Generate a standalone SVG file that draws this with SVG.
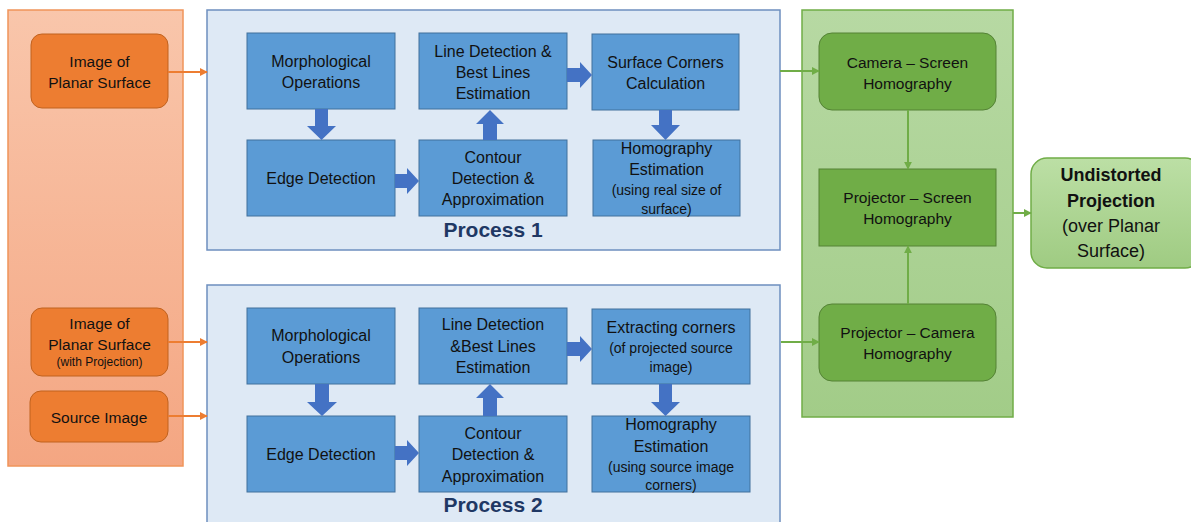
<svg xmlns="http://www.w3.org/2000/svg" width="1191" height="522" viewBox="0 0 1191 522">
<defs>
<linearGradient id="gOr" x1="0" y1="0" x2="0" y2="1">
<stop offset="0" stop-color="#f9c6ab"/><stop offset="1" stop-color="#f4a682"/>
</linearGradient>
<linearGradient id="gGr" x1="0" y1="0" x2="0" y2="1">
<stop offset="0" stop-color="#b7d9a3"/><stop offset="1" stop-color="#a2cc88"/>
</linearGradient>
<linearGradient id="gOut" x1="0" y1="0" x2="0" y2="1">
<stop offset="0" stop-color="#bcdfa5"/><stop offset="1" stop-color="#9fcb82"/>
</linearGradient>
<marker id="aO" viewBox="0 0 10 10" refX="9" refY="5" markerWidth="4" markerHeight="4" orient="auto" markerUnits="strokeWidth">
<path d="M0,0 L10,5 L0,10 z" fill="#ed7d31"/>
</marker>
<marker id="aG" viewBox="0 0 10 10" refX="9" refY="5" markerWidth="4" markerHeight="4" orient="auto" markerUnits="strokeWidth">
<path d="M0,0 L10,5 L0,10 z" fill="#70ad47"/>
</marker>
<style>
text{font-family:"Liberation Sans",Arial,sans-serif;fill:#111;text-anchor:middle}
.t{font-size:16px}
.to{font-size:15.5px}
.s{font-size:14px}
.xs{font-size:12px}
.big{font-size:18px}
.lbl{font-size:21px;font-weight:bold;fill:#1f3864}
.blue{fill:#5b9bd5;stroke:#41719c;stroke-width:1}
.orn{fill:#ed7d31;stroke:#c0621f;stroke-width:1}
.grn{fill:#70ad47;stroke:#548235;stroke-width:1}
.panel{fill:#dee9f5;stroke:#6d8fbf;stroke-width:1.5}
.barrow{fill:#4472c4}
.co{stroke:#ed7d31;stroke-width:2;fill:none}
.cg{stroke:#70ad47;stroke-width:2;fill:none}
</style>
</defs>

<!-- panels -->
<g id="inputs-panel"><rect x="8" y="10" width="175" height="456" fill="url(#gOr)" stroke="#f0945a" stroke-width="1.5"/></g>
<g id="process1"><rect class="panel" x="207" y="10" width="573" height="240"/><text class="lbl" x="493" y="237">Process 1</text></g>
<g id="process2"><rect class="panel" x="207" y="285" width="573" height="245"/><text class="lbl" x="493" y="512">Process 2</text></g>
<g id="homography-panel"><rect x="802" y="10" width="211" height="407" fill="url(#gGr)" stroke="#70ad47" stroke-width="1.5"/></g>

<!-- input nodes -->
<g id="img-planar"><rect class="orn" x="31" y="34" width="137" height="74" rx="11"/>
<text class="to" x="99.5" y="66.5">Image of</text><text class="to" x="99.5" y="87.5">Planar Surface</text></g>
<g id="img-planar-proj"><rect class="orn" x="31" y="308" width="137" height="68" rx="11"/>
<text class="to" x="99.5" y="328.5">Image of</text><text class="to" x="99.5" y="349.5">Planar Surface</text><text class="xs" x="99.5" y="366">(with Projection)</text></g>
<g id="source-img"><rect class="orn" x="30" y="391" width="138" height="51" rx="11"/>
<text class="to" x="99" y="422.5">Source Image</text></g>

<!-- process 1 nodes -->
<g id="p1-morph"><rect class="blue" x="247" y="33" width="148" height="76"/>
<text class="t" x="321" y="66.5">Morphological</text><text class="t" x="321" y="87.5">Operations</text></g>
<g id="p1-edge"><rect class="blue" x="247" y="140" width="148" height="76"/>
<text class="t" x="321" y="184">Edge Detection</text></g>
<g id="p1-line"><rect class="blue" x="419" y="33" width="148" height="76"/>
<text class="t" x="493" y="56.5">Line Detection &amp;</text><text class="t" x="493" y="77.5">Best Lines</text><text class="t" x="493" y="98.5">Estimation</text></g>
<g id="p1-contour"><rect class="blue" x="419" y="140" width="148" height="76"/>
<text class="t" x="493" y="162.5">Contour</text><text class="t" x="493" y="183.5">Detection &amp;</text><text class="t" x="493" y="204.5">Approximation</text></g>
<g id="p1-corners"><rect class="blue" x="592" y="34" width="147" height="76"/>
<text class="t" x="665.5" y="67.5">Surface Corners</text><text class="t" x="665.5" y="88.5">Calculation</text></g>
<g id="p1-homog"><rect class="blue" x="593" y="140" width="147" height="76"/>
<text class="t" x="666.5" y="153.5">Homography</text><text class="t" x="666.5" y="174.5">Estimation</text><text class="s" x="666.5" y="195">(using real size of</text><text class="s" x="666.5" y="214">surface)</text></g>

<!-- process 2 nodes -->
<g id="p2-morph"><rect class="blue" x="247" y="308" width="148" height="76"/>
<text class="t" x="321" y="340.5">Morphological</text><text class="t" x="321" y="362.5">Operations</text></g>
<g id="p2-edge"><rect class="blue" x="247" y="416" width="148" height="76"/>
<text class="t" x="321" y="459.5">Edge Detection</text></g>
<g id="p2-line"><rect class="blue" x="419" y="308" width="148" height="76"/>
<text class="t" x="493" y="329.5">Line Detection</text><text class="t" x="493" y="351.5">&amp;Best Lines</text><text class="t" x="493" y="372.5">Estimation</text></g>
<g id="p2-contour"><rect class="blue" x="419" y="416" width="148" height="76"/>
<text class="t" x="493" y="438.5">Contour</text><text class="t" x="493" y="459.5">Detection &amp;</text><text class="t" x="493" y="481.5">Approximation</text></g>
<g id="p2-extract"><rect class="blue" x="592" y="309" width="158" height="75"/>
<text class="t" x="671" y="332.5">Extracting corners</text><text class="s" x="671" y="353">(of projected source</text><text class="s" x="671" y="372">image)</text></g>
<g id="p2-homog"><rect class="blue" x="592" y="416" width="158" height="76"/>
<text class="t" x="671" y="429.5">Homography</text><text class="t" x="671" y="451.5">Estimation</text><text class="s" x="671" y="472">(using source image</text><text class="s" x="671" y="490">corners)</text></g>

<!-- homography nodes -->
<g id="cam-screen"><rect class="grn" x="819" y="33" width="177" height="77" rx="13"/>
<text class="to" x="907.5" y="67.5">Camera – Screen</text><text class="to" x="907.5" y="88.5">Homography</text></g>
<g id="proj-screen"><rect class="grn" x="819" y="169" width="177" height="77"/>
<text class="to" x="907.5" y="202.5">Projector – Screen</text><text class="to" x="907.5" y="223.5">Homography</text></g>
<g id="proj-cam"><rect class="grn" x="819" y="304" width="177" height="77" rx="13"/>
<text class="to" x="907.5" y="337.5">Projector – Camera</text><text class="to" x="907.5" y="358.5">Homography</text></g>
<g id="output"><rect x="1031" y="158" width="170" height="110" rx="16" fill="url(#gOut)" stroke="#70ad47" stroke-width="1.5"/>
<text class="big" x="1111" y="181" font-weight="bold">Undistorted</text><text class="big" x="1111" y="207" font-weight="bold">Projection</text><text class="big" x="1111" y="232">(over Planar</text><text class="big" x="1111" y="257">Surface)</text></g>

<!-- connectors -->
<g id="connectors">
<line class="co" x1="168" y1="72" x2="207" y2="72" marker-end="url(#aO)"/>
<line class="co" x1="168" y1="342" x2="207" y2="342" marker-end="url(#aO)"/>
<line class="co" x1="168" y1="416" x2="207" y2="416" marker-end="url(#aO)"/>
<line class="cg" x1="780" y1="71" x2="819" y2="71" marker-end="url(#aG)"/>
<line class="cg" x1="781" y1="342" x2="819" y2="342" marker-end="url(#aG)"/>
<line class="cg" x1="908" y1="110" x2="908" y2="169" marker-end="url(#aG)"/>
<line class="cg" x1="908" y1="304" x2="908" y2="246" marker-end="url(#aG)"/>
<line class="cg" x1="1013" y1="213" x2="1031" y2="213" marker-end="url(#aG)"/>
<!-- block arrows process 1 -->
<path class="barrow" d="M315,109 H328 V126 H336 L321.5,140 L307,126 H315 Z"/>
<path class="barrow" d="M395,174 H407 V168 L419,181 L407,194 V188 H395 Z"/>
<path class="barrow" d="M483,140 V124 H476 L490,110 L504,124 H497 V140 Z"/>
<path class="barrow" d="M567,68 H580 V62 L592,75 L580,88 V82 H567 Z"/>
<path class="barrow" d="M659,110 H672 V125 H680 L665.5,140 L651,125 H659 Z"/>
<!-- block arrows process 2 -->
<path class="barrow" d="M315,384 H329 V402 H337 L322,416 L307,402 H315 Z"/>
<path class="barrow" d="M395,446 H407 V440 L419,453 L407,466 V460 H395 Z"/>
<path class="barrow" d="M483,416 V398 H476 L490,384 L504,398 H497 V416 Z"/>
<path class="barrow" d="M567,342 H580 V336 L592,349 L580,362 V356 H567 Z"/>
<path class="barrow" d="M659,384 H672 V402 H680 L665.5,416 L651,402 H659 Z"/>
</g>
</svg>
